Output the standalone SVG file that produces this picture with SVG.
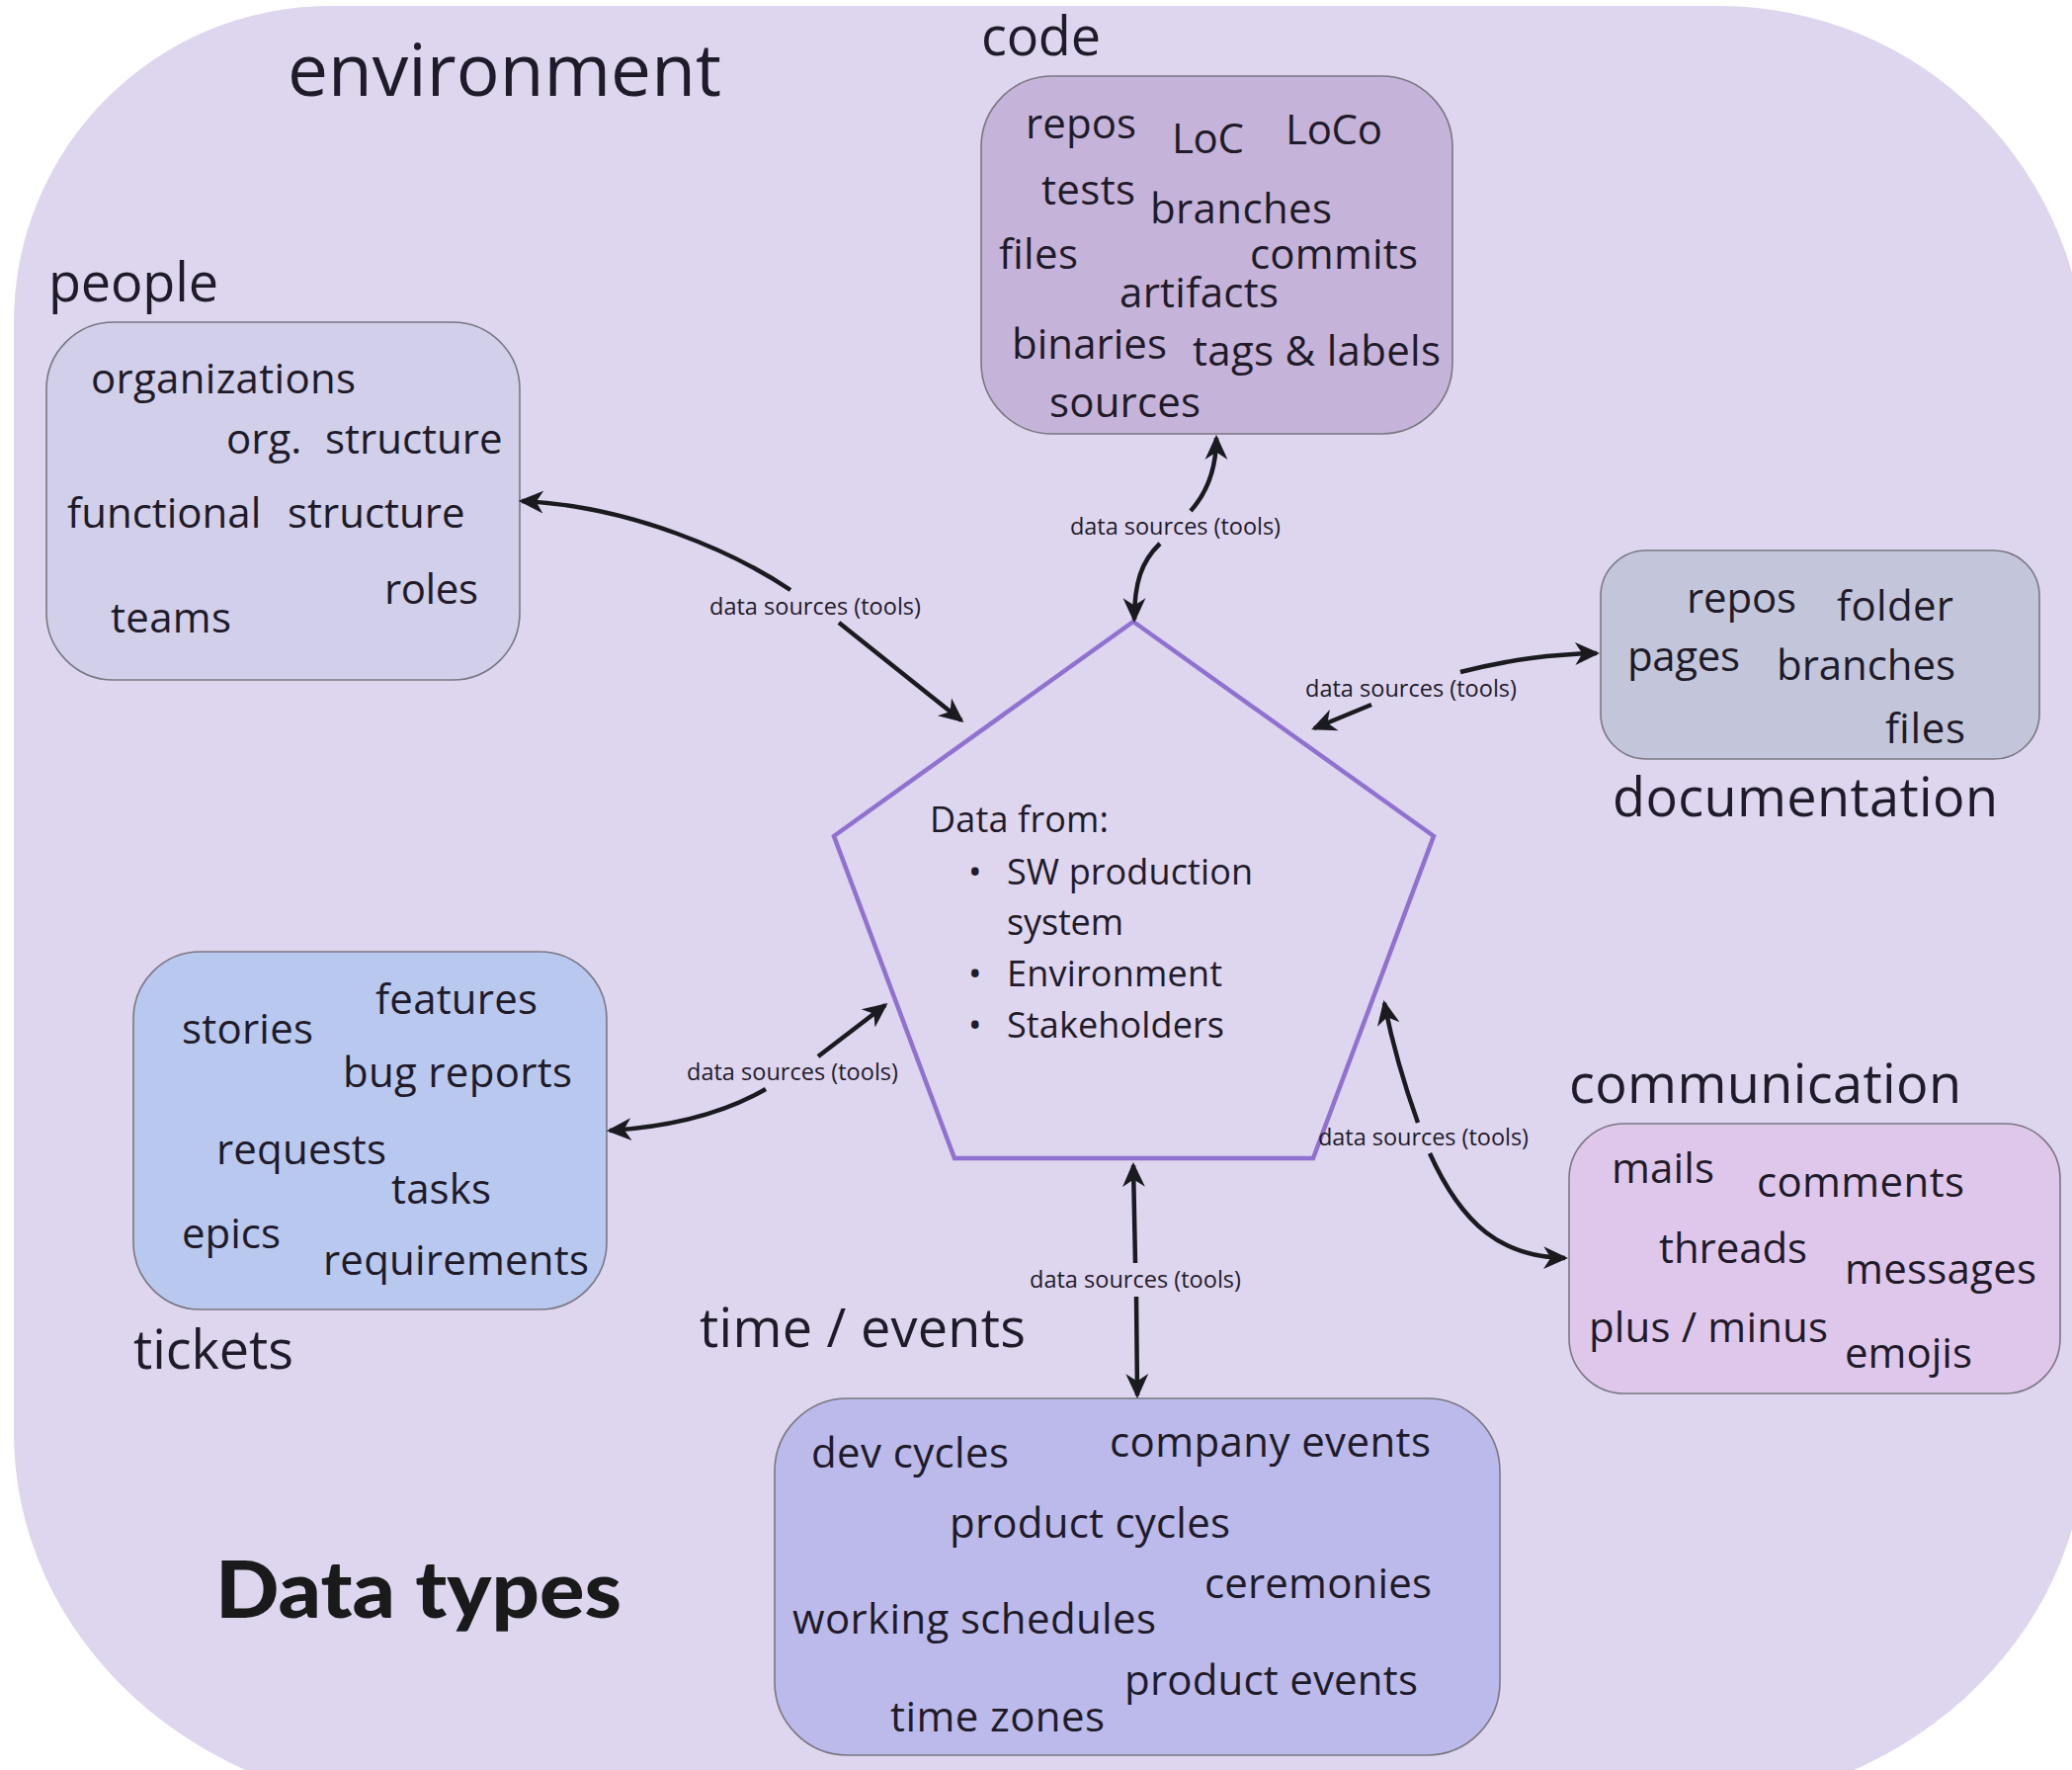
<svg xmlns="http://www.w3.org/2000/svg" width="2097" height="1791" viewBox="0 0 2097 1791">
  <defs>
    <style>
      text { font-family: "Open Sans", "Noto Sans", "DejaVu Sans", sans-serif; fill: #1f1b29; }
      .item { font-size: 42px; }
      .cat { font-size: 54px; }
      .src { font-size: 23.5px; }
      .body { font-size: 36px; }
      .title { font-family: "Lato", "Inter", "Roboto", sans-serif; font-weight: 900; font-size: 80px; fill: #1a1a1a; }
      .box { stroke: #7a7782; stroke-width: 1.6; }
      .conn { fill: none; stroke: #1b1b1f; stroke-width: 4.5; marker-start: url(#head); marker-end: url(#head); }
    </style>
    <marker id="head" viewBox="0 0 24 24" markerUnits="userSpaceOnUse" markerWidth="25" markerHeight="25" refX="21" refY="12" orient="auto-start-reverse">
      <path d="M0,1 L24,12 L0,23 L7,12 Z" fill="#1b1b1f"/>
    </marker>
  </defs>

  <rect width="2097" height="1791" fill="#ffffff"/>

  <!-- environment backdrop -->
  <path id="environment-bg" d="M334,6 L1740,6 A371,371 0 0 1 2111,377 L2111,1450 A420,380 0 0 1 1691,1830 L434,1830 A420,380 0 0 1 14,1450 L14,326 A320,320 0 0 1 334,6 Z" fill="#ded5ef"/>
  <text class="cat" x="291" y="97" style="font-size:73px" textLength="439">environment</text>
  <text class="title" x="218" y="1637" textLength="411" lengthAdjust="spacingAndGlyphs">Data types</text>

  <!-- people -->
  <g id="people">
    <text class="cat" x="49" y="305" textLength="172">people</text>
    <rect class="box" x="47" y="326" width="479" height="362" rx="68" fill="#d1cfea"/>
    <text class="item" x="92" y="398" textLength="268">organizations</text>
    <text class="item" y="459"><tspan x="229">org.</tspan><tspan x="329">structure</tspan></text>
    <text class="item" y="534"><tspan x="68">functional</tspan><tspan x="291">structure</tspan></text>
    <text class="item" x="389" y="611" textLength="95">roles</text>
    <text class="item" x="112" y="640" textLength="122">teams</text>
  </g>

  <!-- code -->
  <g id="code">
    <text class="cat" x="993" y="56" textLength="121">code</text>
    <rect class="box" x="993" y="77" width="477" height="362" rx="72" fill="#c6b3da"/>
    <text class="item" x="1038" y="140" textLength="112">repos</text>
    <text class="item" x="1186" y="155" textLength="73">LoC</text>
    <text class="item" x="1301" y="146" textLength="98">LoCo</text>
    <text class="item" x="1054" y="207" textLength="95">tests</text>
    <text class="item" x="1164" y="226" textLength="184">branches</text>
    <text class="item" x="1011" y="272" textLength="80">files</text>
    <text class="item" x="1265" y="272" textLength="170">commits</text>
    <text class="item" x="1133" y="311" textLength="161">artifacts</text>
    <text class="item" x="1024" y="363" textLength="157">binaries</text>
    <text class="item" x="1207" y="370" textLength="251">tags &amp; labels</text>
    <text class="item" x="1062" y="422" textLength="153">sources</text>
  </g>

  <!-- documentation -->
  <g id="documentation">
    <rect class="box" x="1620" y="557" width="444" height="211" rx="46" fill="#c3c6da"/>
    <text class="item" x="1707" y="620" textLength="111">repos</text>
    <text class="item" x="1859" y="628" textLength="118">folder</text>
    <text class="item" x="1647" y="679" textLength="114">pages</text>
    <text class="item" x="1798" y="688" textLength="181">branches</text>
    <text class="item" x="1908" y="752" textLength="81">files</text>
    <text class="cat" x="1632" y="826" textLength="390">documentation</text>
  </g>

  <!-- tickets -->
  <g id="tickets">
    <rect class="box" x="135" y="963" width="479" height="362" rx="68" fill="#b9c8ef"/>
    <text class="item" x="184" y="1056" textLength="133">stories</text>
    <text class="item" x="380" y="1026" textLength="164">features</text>
    <text class="item" x="347" y="1100" textLength="232">bug reports</text>
    <text class="item" x="219" y="1178" textLength="172">requests</text>
    <text class="item" x="396" y="1218" textLength="101">tasks</text>
    <text class="item" x="184" y="1263" textLength="100">epics</text>
    <text class="item" x="327" y="1290" textLength="269">requirements</text>
    <text class="cat" x="135" y="1385" textLength="162">tickets</text>
  </g>

  <!-- time / events -->
  <g id="time-events">
    <text class="cat" x="708" y="1363" textLength="330">time / events</text>
    <rect class="box" x="784" y="1415" width="734" height="361" rx="74" fill="#bbbaeb"/>
    <text class="item" x="821" y="1485" textLength="200">dev cycles</text>
    <text class="item" x="1123" y="1474" textLength="325">company events</text>
    <text class="item" x="961" y="1556" textLength="284">product cycles</text>
    <text class="item" x="1219" y="1617" textLength="230">ceremonies</text>
    <text class="item" x="802" y="1653" textLength="368">working schedules</text>
    <text class="item" x="1138" y="1715" textLength="297">product events</text>
    <text class="item" x="901" y="1752" textLength="217">time zones</text>
  </g>

  <!-- communication -->
  <g id="communication">
    <text class="cat" x="1588" y="1116" textLength="397">communication</text>
    <rect class="box" x="1588" y="1137" width="497" height="273" rx="56" fill="#dfc7ec"/>
    <text class="item" x="1631" y="1197" textLength="104">mails</text>
    <text class="item" x="1778" y="1211" textLength="210">comments</text>
    <text class="item" x="1679" y="1278" textLength="150">threads</text>
    <text class="item" x="1867" y="1299" textLength="194">messages</text>
    <text class="item" x="1608" y="1358" textLength="242">plus / minus</text>
    <text class="item" x="1867" y="1384" textLength="129">emojis</text>
  </g>

  <!-- central pentagon -->
  <g id="data-hub">
    <polygon points="1147,629 1451,846 1329,1172 966,1172 844,846" fill="none" stroke="#9171cf" stroke-width="4.5" stroke-linejoin="miter"/>
    <text class="body" x="941" y="842" textLength="181">Data from:</text>
    <text class="body" x="980" y="895">•</text>
    <text class="body" x="1019" y="895" textLength="249">SW production</text>
    <text class="body" x="1019" y="946" textLength="118">system</text>
    <text class="body" x="980" y="998">•</text>
    <text class="body" x="1019" y="998" textLength="218">Environment</text>
    <text class="body" x="980" y="1050">•</text>
    <text class="body" x="1019" y="1050" textLength="220">Stakeholders</text>
  </g>

  <!-- connectors: each is split around its label -->
  <g id="connectors">
    <path class="conn" d="M528,507 C640,512 745,560 800,597 M849,630 L973,729"/>
    <text class="src" x="718" y="622" textLength="214">data sources (tools)</text>

    <path class="conn" d="M1148,627 C1148,590 1155,568 1174,550 M1205,517 C1222,498 1231,475 1231,443"/>
    <text class="src" x="1083" y="541" textLength="213">data sources (tools)</text>

    <path class="conn" d="M1330,737 L1388,713 M1478,680 C1530,667 1570,662 1616,661"/>
    <text class="src" x="1321" y="705" textLength="214">data sources (tools)</text>

    <path class="conn" d="M617,1144 C680,1140 735,1125 775,1102 M828,1069 L896,1017"/>
    <text class="src" x="695" y="1093" textLength="214">data sources (tools)</text>

    <path class="conn" d="M1401,1015 C1410,1060 1422,1100 1435,1136 M1447,1167 C1480,1240 1520,1272 1584,1273"/>
    <text class="src" x="1334" y="1159" textLength="213">data sources (tools)</text>

    <path class="conn" d="M1147,1179 L1149,1278 M1150,1312 L1151,1412"/>
    <text class="src" x="1042" y="1303" textLength="214">data sources (tools)</text>
  </g>
</svg>
